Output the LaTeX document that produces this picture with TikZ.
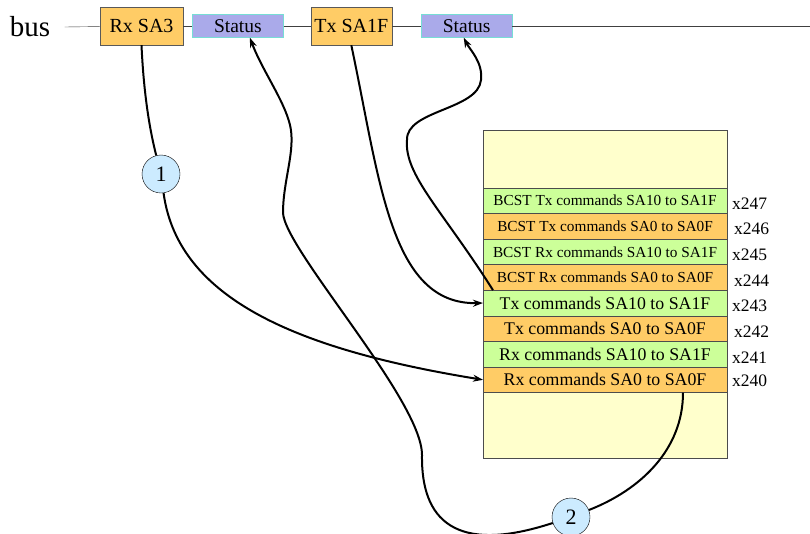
\documentclass[tikz,border=0pt]{standalone}
\usepackage{fontspec}
\setmainfont{Liberation Serif}
\usetikzlibrary{positioning,arrows.meta}

\definecolor{boxorange}{HTML}{FFCC66}
\definecolor{statblue}{HTML}{AAAAEA}
\definecolor{statedge}{HTML}{77DDD5}
\definecolor{rowgreen}{HTML}{CCFF99}
\definecolor{memyellow}{HTML}{FFFFCC}
\definecolor{circblue}{HTML}{CCEBFF}

\begin{document}
\begin{tikzpicture}[x=1pt, y=-1pt, >={Stealth[length=10pt,width=7pt]},
	box/.style = {draw=black!65, fill=boxorange, minimum height=38pt, inner sep=0pt, font=\fontsize{20}{20}\selectfont},
	stat/.style = {draw=statedge, fill=statblue, minimum width=91pt, minimum height=23pt, inner sep=0pt, font=\fontsize{19.5}{19.5}\selectfont},
	row/.style = {draw=black!70, minimum width=244pt, minimum height=25.6pt, inner sep=0pt, outer sep=0pt, font=\fontsize{17.8}{17.8}\selectfont},
	bcst/.style = {row, font=\fontsize{15.3}{15.3}\selectfont},
	addr/.style = {inner sep=0pt, font=\fontsize{17.5}{17.5}\selectfont},
	num/.style = {draw, circle, fill=circblue, minimum size=38pt, inner sep=0pt, font=\fontsize{22}{22}\selectfont},
	wire/.style = {line width=2pt}]
		\useasboundingbox (0,0) rectangle (810,533);
		
		% the bus
		\node[font=\fontsize{29}{29}\selectfont] (bus) at (30,27) {bus};
		\node[box, minimum width=83pt] (rx) at (141.5,26) {Rx SA3};
		\node[stat] (st1) [right=9pt of rx] {Status};
		\node[box, minimum width=81pt] (tx) [right=27pt of st1] {Tx SA1F};
		\node[stat] (st2) [right=29pt of tx] {Status};
		\coordinate (busend) at (810,26);
		
		\draw[black!75] ([xshift=11pt]bus.east) -- (rx);
		\draw[black!75] (rx) -- (st1);
		\draw[black!75] (st1) -- (tx);
		\draw[black!75] (tx) -- (st2);
		\draw[black!75] (st2) -- (busend);
		
		% memory
		\node[draw=black!70, fill=memyellow, minimum width=244pt, minimum height=328pt] (mem) at (605,294) {};
		\node[bcst, fill=rowgreen] (r247) [below=58pt of mem.north] {BCST Tx commands SA10 to SA1F};
		\node[bcst, fill=boxorange] (r246) [below=0pt of r247] {BCST Tx commands SA0 to SA0F};
		\node[bcst, fill=rowgreen] (r245) [below=0pt of r246] {BCST Rx commands SA10 to SA1F};
		\node[bcst, fill=boxorange] (r244) [below=0pt of r245] {BCST Rx commands SA0 to SA0F};
		\node[row, fill=rowgreen] (r243) [below=0pt of r244] {Tx commands SA10 to SA1F};
		\node[row, fill=boxorange] (r242) [below=0pt of r243] {Tx commands SA0 to SA0F};
		\node[row, fill=rowgreen] (r241) [below=0pt of r242] {Rx commands SA10 to SA1F};
		\node[row, fill=boxorange] (r240) [below=0pt of r241] {Rx commands SA0 to SA0F};
		
		\node[addr] (a247) [right=5pt of r247, yshift=-3pt] {x247};
		\node[addr] (a246) [right=7pt of r246, yshift=-3pt] {x246};
		\node[addr] (a245) [right=5pt of r245, yshift=-3pt] {x245};
		\node[addr] (a244) [right=7pt of r244, yshift=-3pt] {x244};
		\node[addr] (a243) [right=5pt of r243, yshift=-3pt] {x243};
		\node[addr] (a242) [right=7pt of r242, yshift=-3pt] {x242};
		\node[addr] (a241) [right=5pt of r241, yshift=-3pt] {x241};
		\node[addr] (a240) [right=5pt of r240, yshift=-1pt] {x240};
		
		\node[num] (c1) at (161,174) {1};
		\node[num] (c2) at (571,517) {2};
		
		% step 1
		\draw[wire] (rx.south) .. controls (144,100) and (151,135) .. (c1);
		\draw[wire,->] (c1) .. controls (178,300) and (300,350) .. (r240.west);
		% step 2
		\draw[wire] ([xshift=-44pt]r240.south east) .. controls (683,450) and (640,490) .. (c2);
		\draw[wire,->] (c2) .. controls (455,555) and (421,520) .. (422,455)
			.. controls (422,400) and (285,250) .. (283,213)
			.. controls (283,180) and (296,150) .. (290,125)
			.. controls (284,100) and (262,70) .. ([xshift=12pt]st1.south);
		% tx
		\draw[wire,->] (tx.south) .. controls (380,180) and (390,305) .. (r243.west);
		\draw[wire,->] ([xshift=10pt]r244.south west) .. controls (443,211) and (404,175) .. (407,140)
			.. controls (406,110) and (478,110) .. (481,80)
			.. controls (483,62) and (470,50) .. ([xshift=-3pt]st2.south);
	\end{tikzpicture}
\end{document}
